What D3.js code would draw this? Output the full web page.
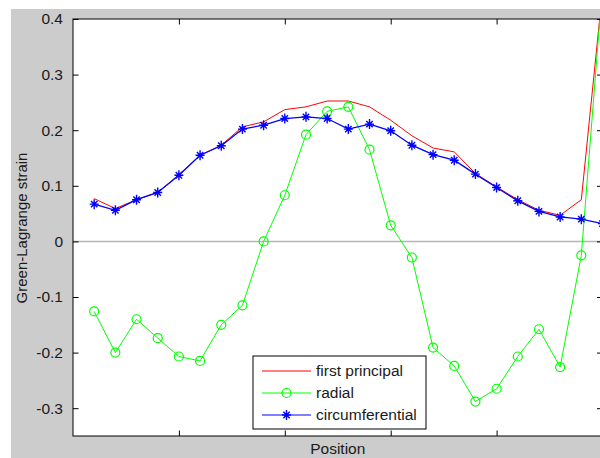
<!DOCTYPE html>
<html><head><meta charset="utf-8">
<script src="https://cdn.jsdelivr.net/npm/d3@7"></script>
<style>html,body{margin:0;padding:0;background:#fff;}svg{display:block;}</style>
</head><body>
<script>
const positions = [1,2,3,4,5,6,7,8,9,10,11,12,13,14,15,16,17,18,19,20,21,22,23,24,25];
const firstPrincipal = [0.077,0.059,0.075,0.088,0.120,0.155,0.173,0.206,0.215,0.237,0.242,0.2525,0.2525,0.242,0.218,0.190,0.168,0.161,0.122,0.098,0.075,0.056,0.047,0.075,0.45];
const radial = [-0.126,-0.200,-0.140,-0.174,-0.207,-0.215,-0.150,-0.115,0.000,0.083,0.192,0.234,0.242,0.165,0.029,-0.029,-0.191,-0.224,-0.288,-0.265,-0.207,-0.158,-0.226,-0.025,0.46];
const circumferential = [0.067,0.056,0.075,0.088,0.119,0.155,0.172,0.202,0.209,0.221,0.224,0.221,0.202,0.211,0.199,0.173,0.156,0.146,0.121,0.097,0.073,0.054,0.044,0.040,0.032];
const yTicks = [-0.3,-0.2,-0.1,0,0.1,0.2,0.3,0.4];
const yTickLabels = ["-0.3","-0.2","-0.1","0","0.1","0.2","0.3","0.4"];
const xTicks = [5,10,15,20];
const seriesNames = ["first principal","radial","circumferential"];
const seriesColors = ["#ff0000","#00ff00","#0000ff"];

const W = 600, H = 458;
const L = 73, R = 602.5, T = 19, B = 436;
const font = "'Liberation Sans', Arial, sans-serif";

const svg = d3.select("body").append("svg").attr("width", W).attr("height", H);
svg.append("rect").attr("x",11).attr("y",9).attr("width",W-11).attr("height",H-9).attr("fill","#cccccc");

const x = d3.scaleLinear().domain([0,25]).range([L,R]);
const y = d3.scaleLinear().domain([-0.35,0.4]).range([B,T]);

svg.append("defs").append("clipPath").attr("id","clip")
  .append("rect").attr("x",L).attr("y",T).attr("width",R-L).attr("height",B-T);

svg.append("rect").attr("x",L).attr("y",T).attr("width",R-L).attr("height",B-T).attr("fill","#fff");

const plot = svg.append("g").attr("clip-path","url(#clip)");
// zero line
plot.append("line").attr("x1",L).attr("x2",R).attr("y1",y(0)).attr("y2",y(0))
  .attr("stroke","#b4b4b4").attr("stroke-width",1.5);

const line = d3.line().x((d,i)=>x(positions[i])).y(d=>y(d));
const data = [firstPrincipal, radial, circumferential];
data.forEach((vals,k)=>{
  plot.append("path").attr("d", line(vals)).attr("fill","none")
    .attr("stroke", seriesColors[k]).attr("stroke-width", k===2?1.3:1);
});
// radial circles
plot.selectAll("circle.rad").data(radial).enter().append("circle")
  .attr("cx",(d,i)=>x(positions[i])).attr("cy",d=>y(d)).attr("r",4.5)
  .attr("fill","none").attr("stroke","#00ff00").attr("stroke-width",1.2);
// circumferential stars
const star = "M-4.5,0H4.5M0,-5V5M-3.2,-3.2L3.2,3.2M-3.2,3.2L3.2,-3.2";
plot.selectAll("path.star").data(circumferential).enter().append("path")
  .attr("transform",(d,i)=>`translate(${x(positions[i])},${y(d)})`)
  .attr("d",star).attr("stroke","#0000ff").attr("stroke-width",1.4).attr("fill","none");

// axes box
svg.append("rect").attr("x",L).attr("y",T).attr("width",R-L).attr("height",B-T)
  .attr("fill","none").attr("stroke","#000").attr("stroke-width",1);

// ticks
const yAxisL = d3.axisLeft(y).tickValues(yTicks).tickSizeInner(-5.5).tickSizeOuter(0)
  .tickPadding(10).tickFormat((d,i)=>yTickLabels[i]);
const gL = svg.append("g").attr("transform",`translate(${L},0)`).call(yAxisL);
gL.select(".domain").remove();
gL.selectAll("text").attr("font-family",font).attr("font-size","15.5px").attr("fill","#1a1a1a");
const yAxisR = d3.axisRight(y).tickValues(yTicks).tickSizeInner(-5.5).tickSizeOuter(0).tickFormat("");
const gR = svg.append("g").attr("transform",`translate(${R},0)`).call(yAxisR);
gR.select(".domain").remove();
const xAxisB = d3.axisBottom(x).tickValues(xTicks).tickSizeInner(-5.5).tickSizeOuter(0).tickFormat("");
const gB = svg.append("g").attr("transform",`translate(0,${B})`).call(xAxisB);
gB.select(".domain").remove();
const xAxisT = d3.axisTop(x).tickValues(xTicks).tickSizeInner(-5.5).tickSizeOuter(0).tickFormat("");
const gT = svg.append("g").attr("transform",`translate(0,${T})`).call(xAxisT);
gT.select(".domain").remove();
svg.selectAll(".tick line").attr("stroke","#000");

// labels
svg.append("text").attr("transform",`translate(27,228) rotate(-90)`).attr("text-anchor","middle")
  .attr("font-family",font).attr("font-size","15px").attr("fill","#1a1a1a").text("Green-Lagrange strain");
svg.append("text").attr("x",(L+R)/2).attr("y",454).attr("text-anchor","middle")
  .attr("font-family",font).attr("font-size","15.5px").attr("fill","#1a1a1a").text("Position");

// legend
const lg = svg.append("g");
lg.append("rect").attr("x",253).attr("y",356).attr("width",173).attr("height",73)
  .attr("fill","#fff").attr("stroke","#000").attr("stroke-width",1);
seriesNames.forEach((name,k)=>{
  const yy = 371 + k*22;
  lg.append("line").attr("x1",262).attr("x2",311).attr("y1",yy).attr("y2",yy)
    .attr("stroke",seriesColors[k]).attr("stroke-width",1);
  if(k===1) lg.append("circle").attr("cx",286.5).attr("cy",yy).attr("r",4.5)
    .attr("fill","none").attr("stroke",seriesColors[k]).attr("stroke-width",1.2);
  if(k===2) lg.append("path").attr("transform",`translate(286.5,${yy})`).attr("d",star)
    .attr("stroke",seriesColors[k]).attr("stroke-width",1.4).attr("fill","none");
  lg.append("text").attr("x",316).attr("y",yy).attr("dy","0.35em")
    .attr("font-family",font).attr("font-size","15.5px").attr("fill","#1a1a1a").text(name);
});
</script>
</body></html>
